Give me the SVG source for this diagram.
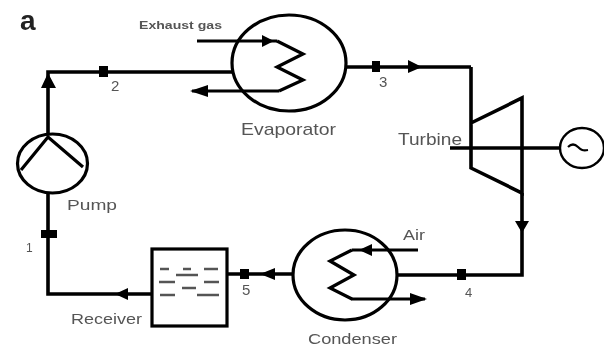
<svg xmlns="http://www.w3.org/2000/svg" width="604" height="347" viewBox="0 0 604 347">
<defs>
<style>
.l{fill:none;stroke:#000;stroke-width:3.6;stroke-linejoin:miter}
.t{fill:none;stroke:#000;stroke-width:3.2}
.h{fill:#000}
.d{stroke:#555;stroke-width:2.4}
text{font-family:"Liberation Sans",Arial,sans-serif;fill:#555}
</style>
<filter id="b" x="-5%" y="-5%" width="110%" height="110%"><feGaussianBlur stdDeviation="0.55"/></filter>
<filter id="bt" x="-10%" y="-20%" width="120%" height="140%"><feGaussianBlur stdDeviation="0.5"/></filter>
</defs>
<rect width="604" height="347" fill="#fff"/>
<g filter="url(#b)">
<g id="connectors">
<path class="l" d="M48 135V72H232"/>
<path class="l" d="M346 67H471"/>
<path class="l" d="M522 193V275H397"/>
<path class="l" d="M292 274H226"/>
<path class="l" d="M152 294H48V193"/>
<path class="t" d="M197 41H277"/>
<path class="t" d="M279 91H192"/>
<path class="t" d="M418 250H352"/>
<path class="t" d="M351 299H425"/>
<path class="h" d="M48 73l-7 15h15zM274 41l-12-6v12zM190 91l18-6v12zM422 67l-14-7v13zM522 233l-7-12h14zM359 250l13-6v12zM427 299l-17-6v12zM260 274l15-6v12zM115 294l13-6v12zM99 66h9v11h-9zM372 61h8v11h-8zM457 269h9v11h-9zM240 269h9v10h-9zM41 230h16v8H41z"/>
</g>
<g id="evaporator">
<ellipse class="t" cx="289" cy="63" rx="57" ry="48"/>
<path class="t" d="M277 41L303 54L277 67L303 80L279 91"/>
</g>
<g id="turbine">
<path class="l" d="M471 67V168L522 193V98L471 123"/>
<path class="l" d="M450 148H560"/>
</g>
<g id="generator">
<ellipse cx="582" cy="148" rx="22" ry="20" fill="#fff" stroke="#000" stroke-width="2.4"/>
<path d="M568 147c4-4 7-3 10 0s5 4 10 3" fill="none" stroke="#000" stroke-width="2.2"/>
</g>
<g id="pump">
<ellipse class="t" cx="52.5" cy="163.5" rx="35" ry="29.5"/>
<path class="t" d="M21 170L48 137L83 167"/>
</g>
<g id="receiver">
<rect x="152" y="249" width="75" height="77" fill="none" stroke="#000" stroke-width="3.2"/>
<path class="d" d="M160 269h9M183 269h8M204 269h14M176 275h22M159 282h16M204 282h15M182 288h14M160 295h15M197 295h22"/>
</g>
<g id="condenser">
<ellipse class="t" cx="345" cy="275" rx="52" ry="45"/>
<path class="t" d="M352 250L330 261L354 275L330 288L352 299"/>
</g>
</g>
<g id="labels" filter="url(#bt)">
<text x="20" y="30" font-size="28" font-weight="700" style="fill:#222">a</text>
<text x="139" y="29" font-size="11" font-weight="700" textLength="83" lengthAdjust="spacingAndGlyphs">Exhaust gas</text>
<text x="111" y="91" font-size="15">2</text>
<text x="241" y="135" font-size="17" textLength="95" lengthAdjust="spacingAndGlyphs">Evaporator</text>
<text x="379" y="87" font-size="15">3</text>
<text x="398" y="145" font-size="17" textLength="64" lengthAdjust="spacingAndGlyphs">Turbine</text>
<text x="67" y="210" font-size="15" textLength="50" lengthAdjust="spacingAndGlyphs">Pump</text>
<text x="26" y="252" font-size="12">1</text>
<text x="71" y="324" font-size="15" textLength="71" lengthAdjust="spacingAndGlyphs">Receiver</text>
<text x="242" y="295" font-size="15">5</text>
<text x="403" y="240" font-size="15" textLength="22" lengthAdjust="spacingAndGlyphs">Air</text>
<text x="465" y="297" font-size="13">4</text>
<text x="308" y="344" font-size="15" textLength="89" lengthAdjust="spacingAndGlyphs">Condenser</text>
</g>
</svg>
